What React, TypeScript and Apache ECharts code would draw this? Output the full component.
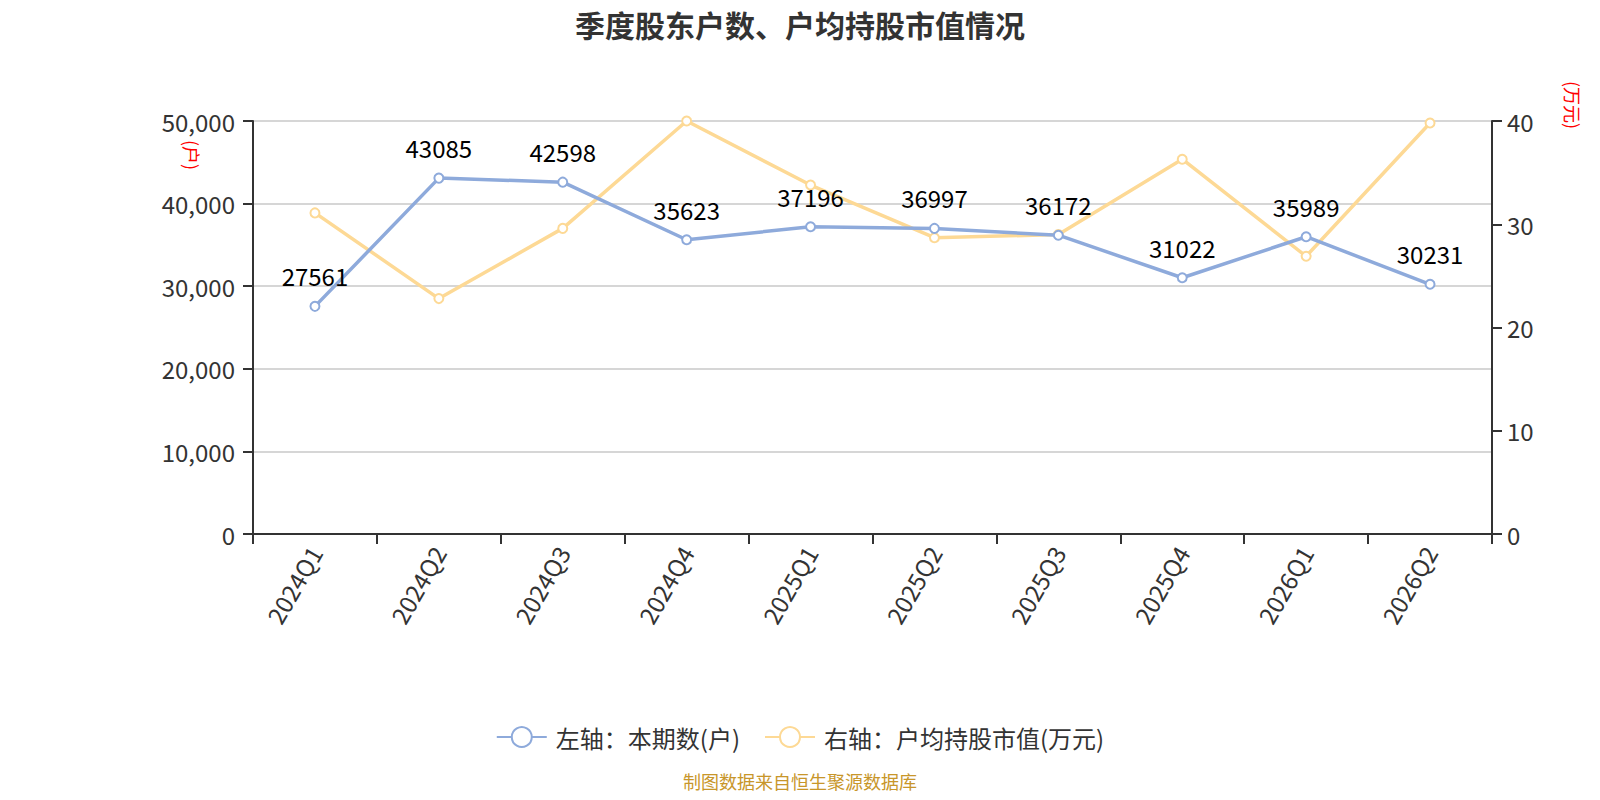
import React, { useEffect, useRef } from "react";
import * as echarts from "echarts";

const categories = ["2024Q1", "2024Q2", "2024Q3", "2024Q4", "2025Q1", "2025Q2", "2025Q3", "2025Q4", "2026Q1", "2026Q2"];
const holders = [27561, 43085, 42598, 35623, 37196, 36997, 36172, 31022, 35989, 30231];
const avgValue = [31.1, 22.8, 29.6, 40.0, 33.8, 28.7, 29.0, 36.3, 26.9, 39.8];

const FONT = "'Noto Sans CJK SC', 'Noto Sans', sans-serif";

export default function App() {
  const ref = useRef<HTMLDivElement>(null);
  useEffect(() => {
    if (!ref.current) return;
    const chart = echarts.init(ref.current, undefined, { renderer: "svg" });
    chart.setOption({
      animation: false,
      textStyle: { fontFamily: FONT },
      title: {
        text: "季度股东户数、户均持股市值情况",
        left: "center",
        top: 1,
        padding: 0,
        textStyle: { fontSize: 30, fontWeight: "bold", color: "#333", fontFamily: FONT },
      },
      legend: {
        top: 712,
        left: "center",
        itemWidth: 50,
        itemHeight: 25,
        itemGap: 24,
        textStyle: { fontSize: 24, color: "#333", fontFamily: FONT, padding: [0, 0, 0, 4] },
        data: ["左轴：本期数(户)", "右轴：户均持股市值(万元)"],
      },
      grid: { left: 245, right: 100, top: 113, bottom: 258 },
      xAxis: {
        type: "category",
        data: categories,
        boundaryGap: true,
        axisLine: { lineStyle: { color: "#333", width: 2 } },
        axisTick: { show: true, length: 10, lineStyle: { color: "#333", width: 2 } },
        axisLabel: { rotate: 60, fontSize: 24, color: "#333", margin: 14, fontFamily: FONT, interval: 0 },
      },
      yAxis: [
        {
          type: "value",
          min: 0,
          max: 50000,
          interval: 10000,
          position: "left",
          axisLine: { show: true, lineStyle: { color: "#333", width: 2 } },
          axisTick: { show: true, length: 10, lineStyle: { color: "#333", width: 2 } },
          axisLabel: { fontSize: 24, color: "#333", margin: 18, fontFamily: FONT },
          splitLine: { lineStyle: { color: "#c8c8c8", width: 1.5 } },
        },
        {
          type: "value",
          min: 0,
          max: 40,
          interval: 10,
          position: "right",
          axisLine: { show: true, lineStyle: { color: "#333", width: 2 } },
          axisTick: { show: true, length: 10, lineStyle: { color: "#333", width: 2 } },
          axisLabel: { fontSize: 24, color: "#333", margin: 15, fontFamily: FONT },
          splitLine: { show: false },
        },
      ],
      graphic: [
        {
          type: "text",
          x: 184,
          y: 147,
          rotation: -Math.PI / 2,
          style: { text: "(户)", fill: "#ff0000", fontSize: 18, fontFamily: FONT, align: "center", verticalAlign: "middle" },
        },
        {
          type: "text",
          x: 1565,
          y: 97,
          rotation: -Math.PI / 2,
          style: { text: "(万元)", fill: "#ff0000", fontSize: 18, fontFamily: FONT, align: "center", verticalAlign: "middle" },
        },
        {
          type: "text",
          left: "center",
          top: 764,
          style: { text: "制图数据来自恒生聚源数据库", fill: "#c8962a", fontSize: 18, fontFamily: FONT },
        },
      ],
      series: [
        {
          name: "左轴：本期数(户)",
          type: "line",
          yAxisIndex: 0,
          data: holders,
          symbol: "emptyCircle",
          symbolSize: 9,
          itemStyle: { color: "#8eaadb", borderWidth: 2 },
          lineStyle: { width: 3.5, color: "#8eaadb" },
          label: { show: true, position: "top", distance: 13, fontSize: 24, color: "#000", fontFamily: FONT },
          z: 3,
        },
        {
          name: "右轴：户均持股市值(万元)",
          type: "line",
          yAxisIndex: 1,
          data: avgValue,
          symbol: "emptyCircle",
          symbolSize: 9,
          itemStyle: { color: "#fdd995", borderWidth: 2 },
          lineStyle: { width: 3.5, color: "#fdd995" },
          label: { show: false },
          z: 2,
        },
      ],
    });
    return () => chart.dispose();
  }, []);
  return <div ref={ref} style={{ width: 1584, height: 784 }} />;
}
